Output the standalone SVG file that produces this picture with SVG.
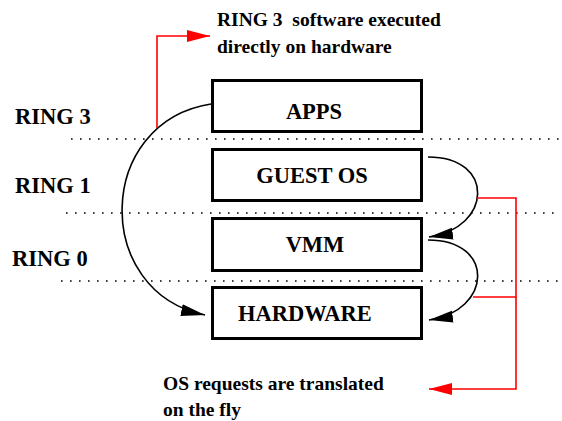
<svg xmlns="http://www.w3.org/2000/svg" width="562" height="421" viewBox="0 0 562 421">
  <style>
    .box { fill: #ffffff; stroke: #000000; stroke-width: 3; }
    .lbl { font-family: "Liberation Serif", "Times New Roman", serif; font-weight: bold; fill: #000000; }
    .node-text { font-size: 22.5px; text-anchor: middle; }
    .ring { font-size: 22.5px; }
    .note { font-size: 19.5px; }
    .level { stroke: #000000; stroke-width: 1.6; stroke-dasharray: 1.6 7.4; fill: none; }
    .flow { stroke: #000000; stroke-width: 1.6; fill: none; marker-end: url(#blackHead); }
    .call { stroke: #ff0000; stroke-width: 1.6; fill: none; }
    .call-tip { stroke: #ff0000; stroke-width: 1.6; fill: none; marker-end: url(#redHead); }
  </style>
  <defs>
    <marker id="blackHead" markerUnits="userSpaceOnUse" markerWidth="26" markerHeight="14" refX="24" refY="6" orient="auto">
      <path d="M0,0 L24,6 L0,12 Z" fill="#000000"/>
    </marker>
    <marker id="redHead" markerUnits="userSpaceOnUse" markerWidth="26" markerHeight="14" refX="23" refY="6" orient="auto">
      <path d="M0,0 L23,6 L0,12 Z" fill="#ff0000"/>
    </marker>
  </defs>

  <rect width="562" height="421" fill="#ffffff"/>

  <!-- privilege level boundaries -->
  <g id="levels">
    <line class="level" x1="71" y1="139" x2="561" y2="139"/>
    <line class="level" x1="66" y1="213" x2="561" y2="213"/>
    <line class="level" x1="61" y1="281" x2="561" y2="281"/>
  </g>

  <!-- ring labels -->
  <g id="ring-labels" class="lbl ring">
    <text x="15" y="124">RING 3</text>
    <text x="15" y="193">RING 1</text>
    <text x="12" y="266">RING 0</text>
  </g>

  <!-- connectors -->
  <g id="connectors">
    <path class="flow" d="M211,104 C95,122 92,292 205,315"/>
    <path class="flow" d="M428,157 C496,157 492,228 429,237"/>
    <path class="flow" d="M428,240 C496,240 492,311 429,320"/>
    <path class="call-tip" d="M157,128 L157,36 L210,36"/>
    <path class="call" d="M477,198 L516,198 L516,297 L473,297"/>
    <path class="call-tip" d="M516,297 L516,389 L429,389"/>
  </g>

  <g id="apps">
    <rect class="box" x="212.5" y="80.5" width="209" height="51"/>
    <text class="lbl node-text" x="314" y="119">APPS</text>
  </g>
  <g id="guest-os">
    <rect class="box" x="212.5" y="149.5" width="209" height="51"/>
    <text class="lbl node-text" x="312" y="183">GUEST OS</text>
  </g>
  <g id="vmm">
    <rect class="box" x="212.5" y="218.5" width="209" height="52"/>
    <text class="lbl node-text" x="315" y="252">VMM</text>
  </g>
  <g id="hardware">
    <rect class="box" x="212.5" y="287.5" width="209" height="51"/>
    <text class="lbl node-text" x="305" y="321">HARDWARE</text>
  </g>

  <!-- annotations -->
  <g id="note-direct" class="lbl note">
    <text x="217" y="26" xml:space="preserve">RING 3  software executed</text>
    <text x="217" y="53">directly on hardware</text>
  </g>
  <g id="note-translate" class="lbl note">
    <text x="163" y="390">OS requests are translated</text>
    <text x="163" y="416">on the fly</text>
  </g>
</svg>
